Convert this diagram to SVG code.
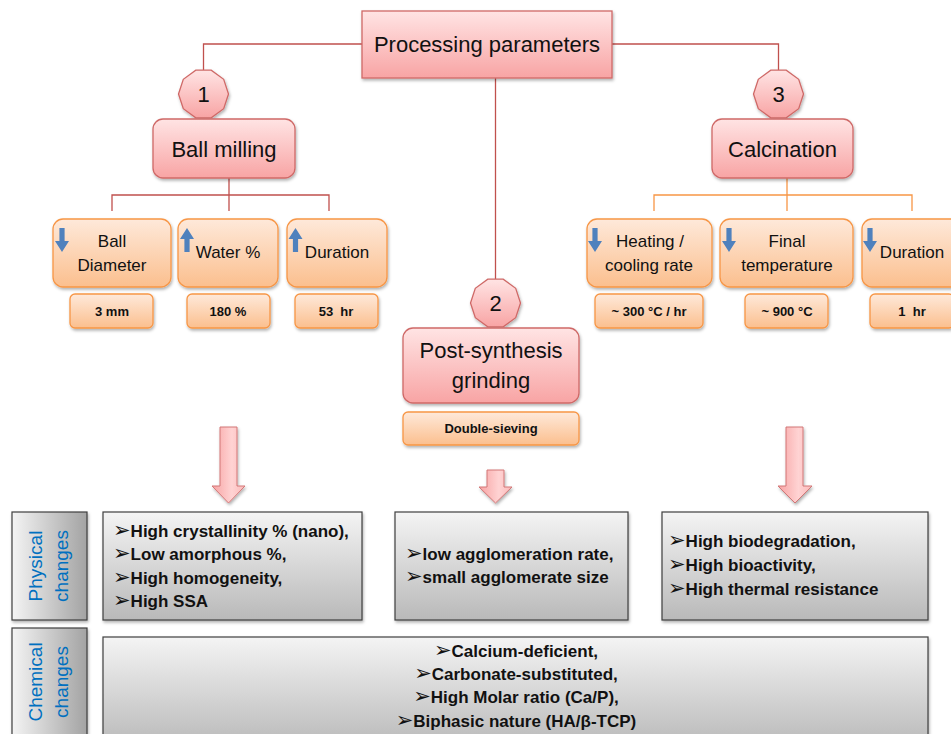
<svg xmlns="http://www.w3.org/2000/svg" width="951" height="734" viewBox="0 0 951 734">
<defs>
<linearGradient id="gPink" x1="0" y1="0" x2="0" y2="1"><stop offset="0" stop-color="#ffe4e4"/><stop offset="1" stop-color="#f8a4a4"/></linearGradient>
<linearGradient id="gOrange" x1="0" y1="0" x2="0" y2="1"><stop offset="0" stop-color="#fee9da"/><stop offset="1" stop-color="#fbbf8e"/></linearGradient>
<linearGradient id="gGreyV" x1="0" y1="0" x2="0" y2="1"><stop offset="0" stop-color="#f4f4f4"/><stop offset="1" stop-color="#b9b9b9"/></linearGradient>
<linearGradient id="gGreyH" x1="0" y1="0" x2="1" y2="0"><stop offset="0" stop-color="#f4f4f4"/><stop offset="1" stop-color="#a3a3a3"/></linearGradient>
<linearGradient id="gArrow" x1="0" y1="0" x2="1" y2="0"><stop offset="0" stop-color="#f7a3a3"/><stop offset="0.6" stop-color="#ffd3d3"/><stop offset="1" stop-color="#fbb9b9"/></linearGradient>
<filter id="sh" x="-10%" y="-10%" width="130%" height="140%"><feDropShadow dx="1" dy="2" stdDeviation="1.5" flood-color="#000" flood-opacity="0.3"/></filter>
<path id="dnA" d="M-2.6,0 H2.6 V13 H7 L0,24 L-7,13 H-2.6 Z"/>
<path id="upA" d="M-2.6,24 H2.6 V11 H7 L0,0 L-7,11 H-2.6 Z"/>
<polygon id="deca" points="25,0 20.2,14.7 7.7,23.8 -7.7,23.8 -20.2,14.7 -25,0 -20.2,-14.7 -7.7,-23.8 7.7,-23.8 20.2,-14.7"/>
</defs>
<style>
.pk{fill:url(#gPink);stroke:#cf6967;stroke-width:1.3;filter:url(#sh)}
.or{fill:url(#gOrange);stroke:#f79646;stroke-width:1.3;filter:url(#sh)}
.gv{fill:url(#gGreyV);stroke:#3f3f3f;stroke-width:1.2;filter:url(#sh)}
.gh{fill:url(#gGreyH);stroke:#3f3f3f;stroke-width:1.2;filter:url(#sh)}
.ba{fill:url(#gArrow);stroke:#d27676;stroke-width:1;filter:url(#sh)}
.bl{fill:#4f81bd}
.rl{fill:none;stroke:#c0504d;stroke-width:1.3}
.ol{fill:none;stroke:#f79646;stroke-width:1.3}
text{font-family:"Liberation Sans",Arial,sans-serif;fill:#111}
.t22{font-size:22px;text-anchor:middle}
.t17{font-size:17px;text-anchor:middle}
.v13{font-size:13px;font-weight:bold;text-anchor:middle}
.lb{font-size:19px;fill:#0070c0;text-anchor:middle}
.b17{font-size:17px;font-weight:bold}
.bul{font-family:"DejaVu Sans",sans-serif;font-weight:normal;font-size:21px}
</style>

<g id="connectors">
<path class="rl" d="M362,44 H203.5 V70"/>
<path class="rl" d="M612,44 H778.5 V70"/>
<path class="rl" d="M495.5,78 V279"/>
<path class="rl" d="M229,178 V195 M112,211 V195 H329 V211 M229,195 V211"/>
<path class="ol" d="M787,178 V195 M654,211 V195 H912 V211 M787,195 V211"/>
<path class="ba" d="M220,427 H237 V486 H245 L228.5,503 L212,486 H220 Z"/>
<path class="ba" d="M487,470 H504 V487 H512 L495.5,503 L479,487 H487 Z"/>
<path class="ba" d="M786,427 H803 V486 H812 L795,503 L778,486 H786 Z"/>
</g>

<g id="processing"><rect class="pk" x="362" y="11" width="250" height="67"/><text class="t22" x="487" y="52">Processing parameters</text></g>

<g id="num1"><use href="#deca" class="pk" x="203.5" y="94"/><text class="t22" x="203.5" y="102">1</text></g>
<g id="num3"><use href="#deca" class="pk" x="778.5" y="94"/><text class="t22" x="778.5" y="102">3</text></g>
<g id="num2"><use href="#deca" class="pk" x="495.5" y="303"/><text class="t22" x="495.5" y="311">2</text></g>

<g id="ballmilling"><rect class="pk" x="153" y="119" width="142" height="59" rx="10"/><text class="t22" x="224" y="157">Ball milling</text></g>
<g id="calcination"><rect class="pk" x="712" y="119" width="141" height="59" rx="10"/><text class="t22" x="782.5" y="157">Calcination</text></g>
<g id="postsynthesis"><rect class="pk" x="403" y="328" width="176" height="75" rx="10"/><text class="t22" x="491" y="358">Post-synthesis</text><text class="t22" x="491" y="388">grinding</text></g>
<g id="doublesieving"><rect class="or" x="403" y="412" width="176" height="33" rx="5"/><text class="v13" x="491" y="433">Double-sieving</text></g>

<g id="balldiameter"><rect class="or" x="53" y="219" width="118" height="68" rx="10"/><use href="#dnA" class="bl" x="62" y="228"/><text class="t17" x="112" y="247">Ball</text><text class="t17" x="112" y="271">Diameter</text></g>
<g id="water"><rect class="or" x="178" y="219" width="100" height="68" rx="10"/><use href="#upA" class="bl" x="187" y="228"/><text class="t17" x="228" y="258">Water %</text></g>
<g id="duration1"><rect class="or" x="287" y="219" width="100" height="68" rx="10"/><use href="#upA" class="bl" x="295.5" y="228"/><text class="t17" x="337" y="258">Duration</text></g>
<g id="heating"><rect class="or" x="587" y="219" width="125" height="68" rx="10"/><use href="#dnA" class="bl" x="595" y="228"/><text class="t17" x="650" y="247">Heating /</text><text class="t17" x="649" y="271">cooling rate</text></g>
<g id="finaltemp"><rect class="or" x="720" y="219" width="133" height="68" rx="10"/><use href="#dnA" class="bl" x="729" y="228"/><text class="t17" x="787" y="247">Final</text><text class="t17" x="787" y="271">temperature</text></g>
<g id="duration3"><rect class="or" x="862" y="219" width="100" height="68" rx="10"/><use href="#dnA" class="bl" x="870" y="228"/><text class="t17" x="912" y="258">Duration</text></g>

<g id="v3mm"><rect class="or" x="70" y="294" width="83" height="34" rx="5"/><text class="v13" x="112" y="316">3 mm</text></g>
<g id="v180"><rect class="or" x="187" y="294" width="83" height="34" rx="5"/><text class="v13" x="228" y="316">180 %</text></g>
<g id="v53"><rect class="or" x="295" y="294" width="83" height="34" rx="5"/><text class="v13" x="336" y="316" xml:space="preserve">53  hr</text></g>
<g id="v300"><rect class="or" x="595" y="294" width="108" height="34" rx="5"/><text class="v13" x="649" y="316">~ 300 °C / hr</text></g>
<g id="v900"><rect class="or" x="745" y="294" width="83" height="34" rx="5"/><text class="v13" x="787" y="316">~ 900 °C</text></g>
<g id="v1hr"><rect class="or" x="870" y="294" width="84" height="34" rx="5"/><text class="v13" x="912" y="316" xml:space="preserve">1  hr</text></g>

<g id="physlabel"><rect class="gh" x="12" y="512" width="75" height="108"/>
<text class="lb" transform="translate(42,566) rotate(-90)">Physical</text>
<text class="lb" transform="translate(68,566) rotate(-90)">changes</text></g>
<g id="chemlabel"><rect class="gh" x="12" y="628" width="75" height="120"/>
<text class="lb" transform="translate(42,682) rotate(-90)">Chemical</text>
<text class="lb" transform="translate(68,682) rotate(-90)">changes</text></g>

<g id="phys1"><rect class="gv" x="103" y="512" width="259" height="108"/>
<text class="b17" x="113" y="537"><tspan class="bul">➢</tspan>High crystallinity % (nano),</text>
<text class="b17" x="113" y="560"><tspan class="bul">➢</tspan>Low amorphous %,</text>
<text class="b17" x="113" y="584"><tspan class="bul">➢</tspan>High homogeneity,</text>
<text class="b17" x="113" y="607"><tspan class="bul">➢</tspan>High SSA</text></g>
<g id="phys2"><rect class="gv" x="395" y="512" width="233" height="108"/>
<text class="b17" x="405" y="560"><tspan class="bul">➢</tspan>low agglomeration rate,</text>
<text class="b17" x="405" y="583"><tspan class="bul">➢</tspan>small agglomerate size</text></g>
<g id="phys3"><rect class="gv" x="662" y="512" width="266" height="108"/>
<text class="b17" x="668" y="547"><tspan class="bul">➢</tspan>High biodegradation,</text>
<text class="b17" x="668" y="571"><tspan class="bul">➢</tspan>High bioactivity,</text>
<text class="b17" x="668" y="595"><tspan class="bul">➢</tspan>High thermal resistance</text></g>
<g id="chem"><rect class="gv" x="103" y="637" width="825" height="110"/>
<text class="b17" x="516" y="657" text-anchor="middle"><tspan class="bul">➢</tspan>Calcium-deficient,</text>
<text class="b17" x="516" y="680" text-anchor="middle"><tspan class="bul">➢</tspan>Carbonate-substituted,</text>
<text class="b17" x="516" y="703" text-anchor="middle"><tspan class="bul">➢</tspan>High Molar ratio (Ca/P),</text>
<text class="b17" x="516" y="727" text-anchor="middle"><tspan class="bul">➢</tspan>Biphasic nature (HA/β-TCP)</text></g>
</svg>
